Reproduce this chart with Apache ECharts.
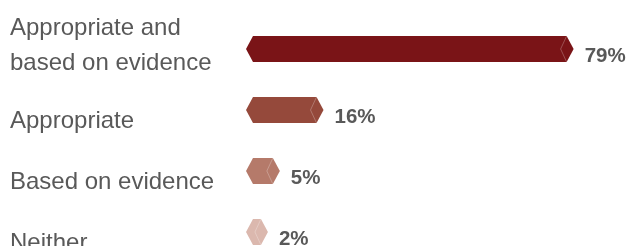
<!DOCTYPE html>
<html>
<head>
<meta charset="utf-8">
<script src="https://cdn.jsdelivr.net/npm/echarts@6/dist/echarts.min.js"></script>
<style>
  html, body { margin: 0; padding: 0; background: #fff; }
  #chart { width: 630px; height: 246px; }
</style>
</head>
<body>
<div id="chart"></div>
<script>
var categories = ["Appropriate and\nbased on evidence", "Appropriate", "Based on evidence", "Neither"];
var values = [79, 16, 5, 2];
var colors = ["#7a1417", "#95493b", "#b57a6a", "#dbb8ae"];

var chart = echarts.init(document.getElementById("chart"));

chart.setOption({
    animation: false,
    grid: { left: 253, top: 18.5, width: 397, height: 244, outerBoundsMode: "none", containLabel: false },
    xAxis: { type: "value", min: 0, max: 100, show: false },
    yAxis: {
        type: "category",
        data: categories,
        inverse: true,
        axisLine: { show: false },
        axisTick: { show: false },
        axisLabel: {
            align: "left",
            margin: 243,
            formatter: function (v) {
                if (v.indexOf("\n") >= 0) return "{two|" + v.replace("\n", "}\n{two|") + "}";
                return "{one|" + v + "}";
            },
            rich: {
                one: { fontSize: 24, color: "#595959", fontFamily: "Liberation Sans, Arial", padding: [23, 0, 0, 0] },
                two: { fontSize: 24, color: "#595959", fontFamily: "Liberation Sans, Arial", lineHeight: 35, padding: [0, 0, 6, 0] }
            }
        }
    },
    series: [{
        type: "custom",
        data: values.map(function (v, i) { return [v, i]; }),
        encode: { x: 0, y: 1 },
        renderItem: function (params, api) {
            var i = api.value(1);
            var p0 = api.coord([0, i]);
            var p1 = api.coord([api.value(0), i]);
            var h = 13, c = 7;
            var x0 = p0[0], x1 = p1[0], y = p0[1];
            var col = colors[params.dataIndex];
            return {
                type: "group",
                children: [{
                    type: "polygon",
                    shape: { points: [[x0 - c, y], [x0, y - h], [x1, y - h], [x1 + c, y], [x1, y + h], [x0, y + h]] },
                    style: { fill: col }
                }, {
                    type: "polyline",
                    shape: { points: [[x1, y - h], [x1 - 6, y], [x1, y + h]] },
                    style: { stroke: "rgba(255,255,255,0.25)", lineWidth: 1, fill: null }
                }, {
                    type: "text",
                    style: {
                        x: x1 + c + 11, y: y + 7,
                        text: api.value(0) + "%",
                        font: "bold 20.5px Liberation Sans, Arial",
                        fill: "#595959",
                        verticalAlign: "middle"
                    }
                }]
            };
        }
    }]
});
</script>
</body>
</html>
